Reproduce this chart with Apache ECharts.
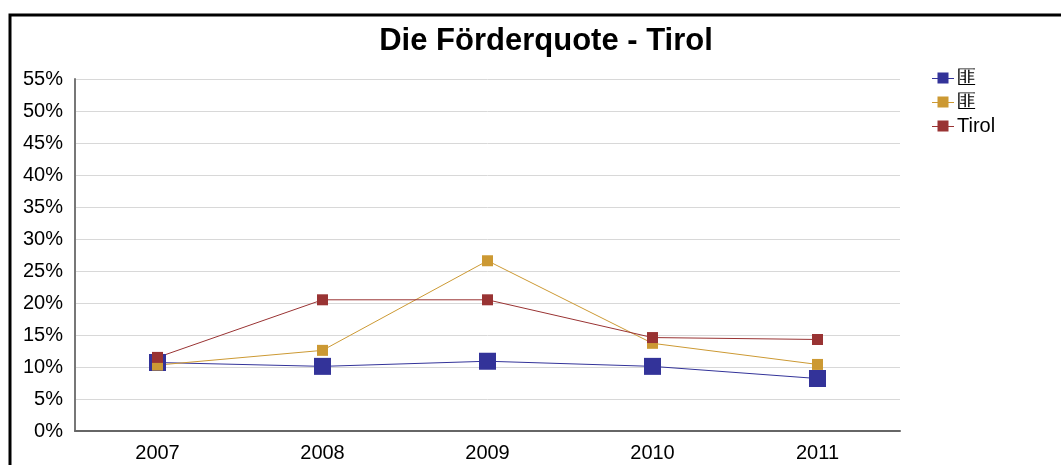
<!DOCTYPE html>
<html>
<head>
<meta charset="utf-8">
<script src="https://cdn.jsdelivr.net/npm/echarts@6/dist/echarts.min.js"></script>
<style>
  html, body { margin: 0; padding: 0; background: #fff; }
  #chart { width: 1061px; height: 465px; }
</style>
</head>
<body>
<div id="chart"></div>
<script>
const years = ["2007", "2008", "2009", "2010", "2011"];
const seriesNames = ["匪", "匪", "Tirol"];
const blueValues = [10.7, 10.1, 10.9, 10.1, 8.2];
const orangeValues = [10.3, 12.6, 26.6, 13.7, 10.4];
const tirolValues = [11.5, 20.5, 20.5, 14.6, 14.3];

const chart = echarts.init(document.getElementById("chart"));

const font = "Liberation Sans, Arial, sans-serif";
// line with a square in the middle, like the legend keys of the original
const legendIcon = "path://M0,5.5 L5.5,5.5 L5.5,0 L16.5,0 L16.5,5.5 L22,5.5 L22,6.5 L16.5,6.5 L16.5,11 L5.5,11 L5.5,6.5 L0,6.5 Z";

function lineSeries(name, data, color, size) {
    return {
        name: name,
        type: "line",
        data: data,
        symbol: "rect",
        symbolSize: size,
        lineStyle: { width: 1, color: color },
        itemStyle: { color: color },
        emphasis: { disabled: true },
        animation: false,
    };
}

chart.setOption({
    animation: false,
    title: {
        text: "Die Förderquote - Tirol",
        left: 541,
        textAlign: "center",
        top: 21,
        textStyle: { fontFamily: font, fontSize: 31, fontWeight: "bold", color: "#000" },
    },
    legend: {
        orient: "vertical",
        left: 927,
        top: 63,
        itemWidth: 22,
        itemHeight: 11,
        itemGap: 4,
        textStyle: { fontFamily: font, fontSize: 20, color: "#000", padding: [0, 0, 0, -2] },
        data: [
            { name: seriesNames[0] + " ", icon: legendIcon },
            { name: seriesNames[1], icon: legendIcon },
            { name: seriesNames[2], icon: legendIcon },
        ],
    },
    grid: { left: 75, right: 161, top: 79, bottom: 34, containLabel: false },
    xAxis: {
        type: "category",
        data: years,
        boundaryGap: true,
        axisLine: { lineStyle: { color: "#666", width: 2 } },
        axisTick: { show: false },
        axisLabel: { fontFamily: font, fontSize: 20, color: "#000", margin: 12 },
    },
    yAxis: {
        type: "value",
        min: 0,
        max: 55,
        interval: 5,
        axisLine: { show: true, lineStyle: { color: "#777", width: 2 } },
        axisTick: { show: false },
        splitLine: { lineStyle: { color: "#d8d8d8", width: 1 } },
        axisLabel: { fontFamily: font, fontSize: 20, color: "#000", margin: 12, formatter: "{value}%" },
    },
    graphic: [
        {
            type: "polyline",
            shape: { points: [[10, 470], [10, 15], [1070, 15]] },
            style: { stroke: "#000", lineWidth: 3, fill: null },
            silent: true,
        },
    ],
    series: [
        lineSeries(seriesNames[0] + " ", blueValues, "#333399", 17),
        lineSeries(seriesNames[1], orangeValues, "#cc9933", 11),
        lineSeries(seriesNames[2], tirolValues, "#993333", 11),
    ],
});
</script>
</body>
</html>
